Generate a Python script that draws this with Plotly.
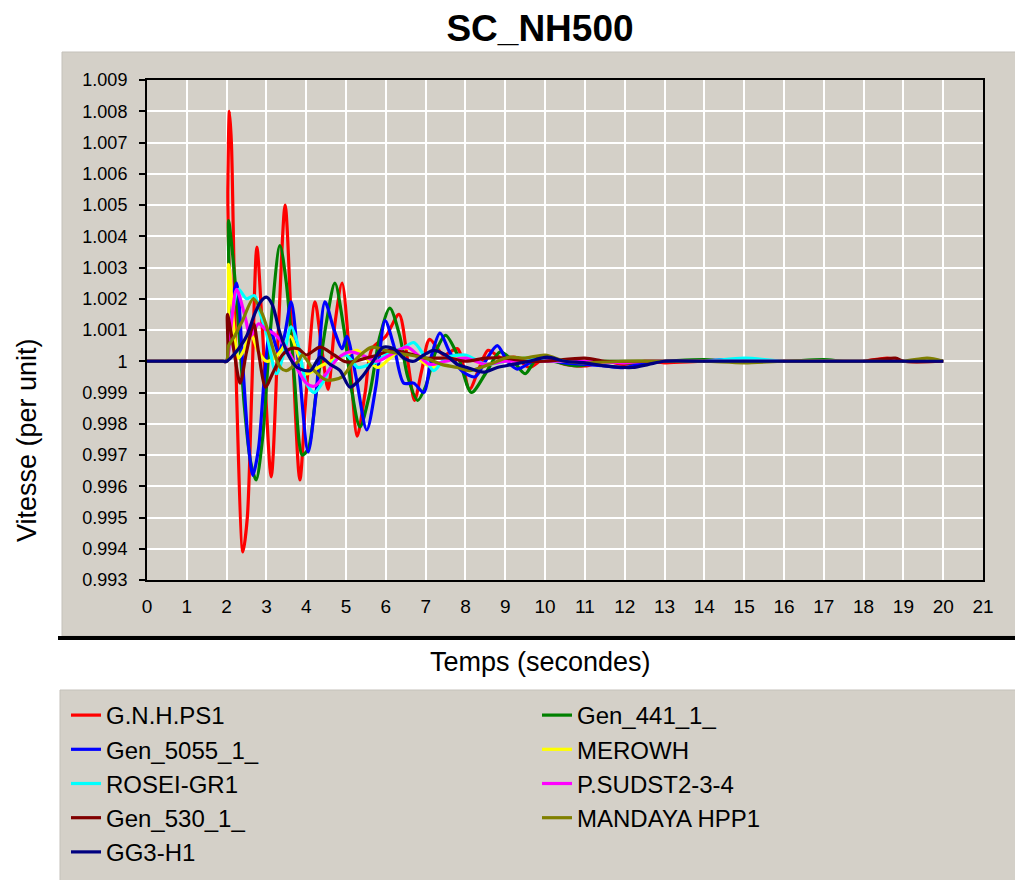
import plotly.graph_objects as go

# ---------------- data ----------------
series_names = ["G.N.H.PS1", "Gen_441_1_", "Gen_5055_1_", "MEROWH", "ROSEI-GR1",
                "P.SUDST2-3-4", "Gen_530_1_", "MANDAYA HPP1", "GG3-H1"]
series_colors = ["#FF0000", "#008000", "#0000FF", "#FFFF00", "#00FFFF",
                 "#FF00FF", "#800000", "#808000", "#000080"]

t_red = [0, 1.0, 1.9, 2.0, 2.03, 2.07, 2.12, 2.17, 2.25, 2.41, 2.52, 2.63, 2.76, 2.9, 3.12, 3.3, 3.47,
         3.65, 3.84, 4.0, 4.22, 4.38, 4.55, 4.72, 4.9, 5.1, 5.28, 5.48, 5.65, 6.0, 6.33, 6.55, 6.72,
         6.9, 7.1, 7.45, 7.8, 8.1, 8.35, 8.57, 8.9, 9.25, 9.6, 10.0, 10.5, 11.0, 11.5, 12.0, 12.5,
         13.0, 14.0, 15.0, 16.0, 17.0, 18.0, 18.6, 19.0, 20.0]
v_red = [1.0, 1.0, 1.0, 1.0, 1.0055, 1.0080, 1.0070, 1.0040, 0.9990, 0.9939, 0.9950, 0.9990, 1.00365,
         1.0010, 0.9963, 1.0010, 1.0050, 1.0005, 0.9962, 0.9990, 1.0019, 1.0005, 0.9991, 1.0012,
         1.0025, 1.0000, 0.9976, 0.9990, 1.0004, 1.0008, 1.0015, 1.0000, 0.99875, 0.9997, 1.0007,
         1.0002, 1.0004, 0.9991, 0.9998, 1.00035, 1.0001, 1.00013, 0.9998, 1.0001, 0.9999, 0.99985,
         1.0000, 0.9999, 1.0, 0.99995, 1.0, 1.0, 1.0, 1.0, 1.0, 1.0001, 1.0, 1.0]

t_green = [0, 1.0, 1.9, 2.0, 2.05, 2.12, 2.25, 2.45, 2.6, 2.74, 2.9, 3.1, 3.34, 3.5, 3.7, 3.9, 4.05,
           4.25, 4.5, 4.72, 4.95, 5.15, 5.35, 5.6, 5.85, 6.1, 6.35, 6.55, 6.8, 7.0, 7.25, 7.5, 7.8,
           8.15, 8.5, 8.87, 9.2, 9.5, 9.8, 10.2, 10.8, 11.5, 12.0, 13.0, 14.0, 14.5, 15.0, 16.0, 17.0,
           17.5, 18.0, 19.0, 20.0]
v_green = [1.0, 1.0, 1.0, 1.0, 1.0045, 1.0038, 1.0020, 0.9985, 0.9968, 0.9962, 0.9975, 1.0010, 1.0037,
           1.0025, 0.9995, 0.9970, 0.9972, 0.9990, 1.0012, 1.0025, 1.0010, 0.9990, 0.9979, 0.9990,
           1.0008, 1.0017, 1.0008, 0.9995, 0.99875, 0.9992, 1.0003, 1.00083, 1.0002, 0.9990, 0.9996,
           1.0003, 1.0000, 0.9996, 1.0001, 1.0000, 0.99985, 1.0000, 0.99995, 1.0, 1.00005, 1.0, 1.0,
           1.0, 1.00005, 1.0, 1.0, 1.0, 1.0]

t_blue = [0, 1.0, 1.9, 2.0, 2.08, 2.25, 2.4, 2.55, 2.66, 2.8, 2.95, 3.1, 3.3, 3.45, 3.62, 3.8, 4.05,
          4.25, 4.47, 4.7, 4.9, 5.02, 5.25, 5.52, 5.75, 5.98, 6.2, 6.45, 6.7, 6.95, 7.15, 7.36, 7.6,
          7.9, 8.24, 8.5, 8.8, 9.05, 9.3, 9.7, 10.0, 10.5, 11.0, 11.5, 12.0, 12.5, 13.0, 14.0, 14.5,
          15.0, 16.0, 17.0, 18.0, 19.0, 20.0]
v_blue = [1.0, 1.0, 1.0, 1.0, 1.0015, 1.0025, 1.0000, 0.9973, 0.99635, 0.9972, 0.9995, 1.0010, 1.0003,
          1.0008, 1.0019, 1.0000, 0.9971, 0.9990, 1.0019, 1.0010, 1.0004, 1.0008, 0.9995, 0.9978,
          0.9992, 1.0013, 1.0005, 0.9993, 0.9993, 0.9990, 1.0002, 1.0009, 1.0003, 0.9997, 0.9995,
          1.0000, 1.0005, 1.0000, 0.99975, 1.0000, 1.00005, 0.99995, 0.9999, 0.99985, 0.9998,
          0.99995, 1.0, 1.0, 1.00005, 1.0, 1.0, 1.0, 1.0, 1.0, 1.0]

t_yellow = [0, 1.0, 1.9, 2.0, 2.05, 2.1, 2.2, 2.3, 2.45, 2.6, 2.8, 3.0, 3.2, 3.4, 3.6, 3.8, 4.0, 4.3,
            4.6, 5.0, 5.28, 5.5, 5.8, 6.1, 6.4, 6.6, 6.9, 7.2, 7.6, 8.0, 8.5, 9.0, 9.5, 10.0, 11.0,
            12.0, 13.0, 14.0, 15.0, 16.0, 17.0, 18.0, 19.0, 20.0]
v_yellow = [1.0, 1.0, 1.0, 1.0, 1.0031, 1.0025, 1.0008, 1.0001, 1.0004, 1.0009, 1.0003, 1.0000,
            1.0001, 1.0004, 1.0008, 1.0002, 0.9996, 0.9998, 1.0000, 1.0002, 1.00035, 1.0001, 0.9998,
            1.0001, 1.0004, 1.0004, 1.0000, 0.9998, 1.0001, 1.0001, 0.9999, 1.0, 1.0001, 1.0, 1.0,
            1.0, 1.0, 1.0, 1.0, 1.0, 1.0, 1.0, 1.0, 1.0]

t_cyan = [0, 1.0, 1.9, 2.0, 2.1, 2.3, 2.5, 2.7, 2.85, 3.0, 3.25, 3.45, 3.62, 3.8, 4.0, 4.2, 4.45, 4.7,
          5.0, 5.3, 5.6, 5.8, 6.1, 6.4, 6.7, 6.95, 7.2, 7.5, 8.0, 8.5, 9.0, 9.5, 10.0, 11.0, 12.0,
          13.0, 14.0, 15.0, 16.0, 17.0, 18.0, 19.0, 20.0]
v_cyan = [1.0, 1.0, 1.0, 1.0, 1.0012, 1.0023, 1.0020, 1.0021, 1.0015, 1.0009, 0.9996, 1.0003, 1.0011,
          1.0005, 0.9993, 0.9990, 0.9994, 1.0000, 1.0002, 0.9998, 0.9999, 1.0000, 1.0003, 1.0004,
          1.0006, 1.0002, 0.9997, 1.0001, 1.0002, 0.9999, 1.0, 1.0001, 1.0, 1.0, 1.0, 1.0, 1.0,
          1.0001, 1.0, 1.0, 1.0, 1.0, 1.0]

t_magenta = [0, 1.0, 1.9, 2.0, 2.1, 2.25, 2.45, 2.6, 2.8, 3.0, 3.17, 3.4, 3.6, 3.8, 4.0, 4.2, 4.5, 4.8,
             5.1, 5.4, 5.78, 6.1, 6.53, 6.8, 7.1, 7.5, 8.0, 8.5, 9.0, 9.5, 10.0, 11.0, 12.0, 12.5,
             13.0, 14.0, 15.0, 16.0, 17.0, 18.0, 19.0, 20.0]
v_magenta = [1.0, 1.0, 1.0, 1.0, 1.0010, 1.0023, 1.0015, 1.0008, 1.0012, 1.0010, 1.0009, 1.0006,
             1.0002, 0.9997, 0.9993, 0.9992, 0.9996, 1.0001, 1.0003, 1.0002, 1.0000, 1.0002, 1.00045,
             1.0002, 0.9999, 1.0, 1.0001, 0.9999, 1.0, 1.0, 1.0, 1.0, 0.99995, 1.0, 1.0, 1.0, 1.0,
             1.0, 1.0, 1.0, 1.0, 1.0]

t_darkred = [0, 1.0, 1.9, 2.0, 2.02, 2.1, 2.2, 2.34, 2.5, 2.68, 2.8, 2.98, 3.15, 3.4, 3.6, 3.8, 4.0,
             4.35, 4.7, 4.95, 5.1, 5.5, 5.8, 6.1, 6.4, 6.7, 7.0, 7.3, 7.6, 8.0, 8.5, 9.0, 9.5, 10.0,
             11.0, 11.5, 12.0, 13.0, 14.0, 15.0, 16.0, 17.0, 18.0, 18.8, 19.0, 20.0]
v_darkred = [1.0, 1.0, 1.0, 1.0, 1.0015, 1.0010, 1.0002, 0.9993, 1.0003, 1.0012, 1.0003, 0.99917,
             0.9996, 1.0002, 1.0004, 1.0004, 1.0002, 1.00045, 1.0002, 1.0000, 0.99997, 1.0001,
             1.0002, 1.00035, 1.0003, 1.0002, 1.0001, 1.0001, 1.0001, 1.0000, 1.0001, 1.0001, 1.0,
             1.0, 1.0001, 1.0, 1.0, 1.0, 1.0, 1.0, 1.0, 1.0, 1.0, 1.0001, 1.0, 1.0]

t_olive = [0, 1.0, 1.9, 2.0, 2.05, 2.2, 2.4, 2.67, 2.9, 3.1, 3.2, 3.35, 3.5, 3.8, 3.9, 4.2, 4.5, 4.9,
           5.2, 5.65, 6.1, 6.6, 7.0, 7.4, 7.8, 8.1, 8.6, 9.1, 9.5, 10.0, 10.5, 11.0, 12.0, 13.0, 14.0,
           15.0, 16.0, 17.0, 18.0, 19.0, 19.6, 20.0]
v_olive = [1.0, 1.0, 1.0, 1.0, 1.0005, 1.0008, 1.0013, 1.0020, 1.0015, 1.0007, 1.00025, 0.9998,
           0.9997, 1.0000, 1.0002, 0.9997, 0.9994, 0.9995, 1.0000, 1.00045, 1.0003, 1.0002, 1.0001,
           0.9999, 0.9998, 0.9997, 0.9999, 1.00013, 1.0001, 1.0002, 1.0, 0.99995, 1.0, 1.0, 1.0,
           0.99995, 1.0, 1.0, 1.0, 1.0, 1.0001, 1.0]

t_navy = [0, 1.0, 1.9, 2.0, 2.1, 2.3, 2.5, 2.7, 2.85, 3.0, 3.15, 3.34, 3.55, 3.77, 4.1, 4.35, 4.6,
          4.85, 5.1, 5.4, 5.68, 5.93, 6.2, 6.45, 6.7, 6.95, 7.2, 7.5, 7.8, 8.04, 8.45, 8.8, 9.2, 9.6,
          10.05, 10.5, 11.0, 11.5, 12.2, 12.6, 13.0, 14.0, 15.0, 16.0, 17.0, 18.0, 19.0, 20.0]
v_navy = [1.0, 1.0, 1.0, 1.0, 1.0001, 1.0004, 1.0008, 1.0015, 1.0019, 1.00205, 1.0018, 1.0009,
          1.0002, 0.9998, 0.9997, 1.00013, 0.9999, 0.9997, 0.99917, 0.9995, 1.0000, 1.00045, 1.0004,
          1.0001, 1.0000, 1.0002, 1.00035, 1.0002, 0.9999, 0.9998, 0.99965, 0.9998, 0.9999, 1.0000,
          1.00013, 1.0000, 0.99995, 0.99985, 0.9998, 0.9999, 1.0, 1.0, 1.0, 1.0, 1.0, 1.0, 1.0, 1.0]

series_t = [t_red, t_green, t_blue, t_yellow, t_cyan, t_magenta, t_darkred, t_olive, t_navy]
series_v = [v_red, v_green, v_blue, v_yellow, v_cyan, v_magenta, v_darkred, v_olive, v_navy]

x_ticks = list(range(0, 22))
y_tickvals = [0.993, 0.994, 0.995, 0.996, 0.997, 0.998, 0.999, 1.0,
              1.001, 1.002, 1.003, 1.004, 1.005, 1.006, 1.007, 1.008, 1.009]
y_ticktext = ["0.993", "0.994", "0.995", "0.996", "0.997", "0.998", "0.999", "1",
              "1.001", "1.002", "1.003", "1.004", "1.005", "1.006", "1.007", "1.008", "1.009"]

title_text = "SC_NH500"
x_title = "Temps (secondes)"
y_title = "Vitesse (per unit)"

# ---------------- figure ----------------
W, H = 1015, 880
ML, MR, MT, MB = 147, 32, 80, 300
PW, PH = W - ML - MR, H - MT - MB
GRAY = "#D4D0C8"
FONT = "Liberation Sans, Arial, sans-serif"


def px(xp):
    return (xp - ML) / PW


def py(yp):
    return (H - MB - yp) / PH


fig = go.Figure()
for name, col, tt, vv in zip(series_names, series_colors, series_t, series_v):
    fig.add_trace(go.Scatter(x=tt, y=vv, mode="lines", name=name,
                             line=dict(color=col, width=3.2, shape="spline", smoothing=0.8)))

shapes = [
    dict(type="rect", xref="paper", yref="paper", x0=px(62), x1=px(1020), y0=py(636), y1=py(52),
         fillcolor=GRAY, line=dict(color="#C4C1BA", width=1), layer="below"),
    dict(type="line", xref="paper", yref="paper", x0=px(58), x1=px(1020), y0=py(638), y1=py(638),
         line=dict(color="#000000", width=4), layer="below"),
    dict(type="rect", xref="paper", yref="paper", x0=px(60), x1=px(1020), y0=py(885), y1=py(690),
         fillcolor=GRAY, line=dict(color="#C4C1BA", width=1), layer="below"),
]

annotations = [
    dict(text=x_title, xref="paper", yref="paper", x=px(540), y=py(662), showarrow=False,
         xanchor="center", yanchor="middle", font=dict(family=FONT, size=27, color="#000000")),
    dict(text=y_title, xref="paper", yref="paper", x=px(27), y=py(440), showarrow=False,
         textangle=-90, xanchor="center", yanchor="middle",
         font=dict(family=FONT, size=27, color="#000000")),
]

fig.update_layout(
    width=W, height=H,
    margin=dict(l=ML, r=MR, t=MT, b=MB, pad=0, autoexpand=False),
    paper_bgcolor="#FFFFFF",
    plot_bgcolor=GRAY,
    font=dict(family=FONT, color="#000000"),
    title=dict(text="<b>" + title_text + "</b>", x=540 / W, xanchor="center",
               y=1 - 28 / H, yanchor="middle",
               font=dict(family=FONT, size=37, color="#000000")),
    shapes=shapes,
    annotations=annotations,
    showlegend=True,
    legend=dict(orientation="h", x=px(66), xanchor="left", y=py(693), yanchor="top",
                bgcolor="rgba(0,0,0,0)", borderwidth=0,
                entrywidth=426, entrywidthmode="pixels", itemwidth=30,
                font=dict(family=FONT, size=24, color="#000000"),
                traceorder="normal"),
)

fig.update_xaxes(range=[0, 21], tickvals=x_ticks, ticktext=[str(v) for v in x_ticks],
                 showgrid=True, gridcolor="#FFFFFF", gridwidth=2,
                 showline=True, linecolor="#000000", linewidth=2, mirror=True,
                 ticks="", zeroline=False, ticklabelstandoff=8,
                 tickfont=dict(family=FONT, size=19, color="#000000"))
fig.update_yaxes(range=[0.993, 1.009], tickvals=y_tickvals, ticktext=y_ticktext,
                 showgrid=True, gridcolor="#FFFFFF", gridwidth=2,
                 showline=True, linecolor="#000000", linewidth=2, mirror=True,
                 ticks="outside", ticklen=6, tickwidth=2, tickcolor="#000000",
                 zeroline=False, ticklabelstandoff=8,
                 tickfont=dict(family=FONT, size=18, color="#000000"))

fig.write_html("out.html")
